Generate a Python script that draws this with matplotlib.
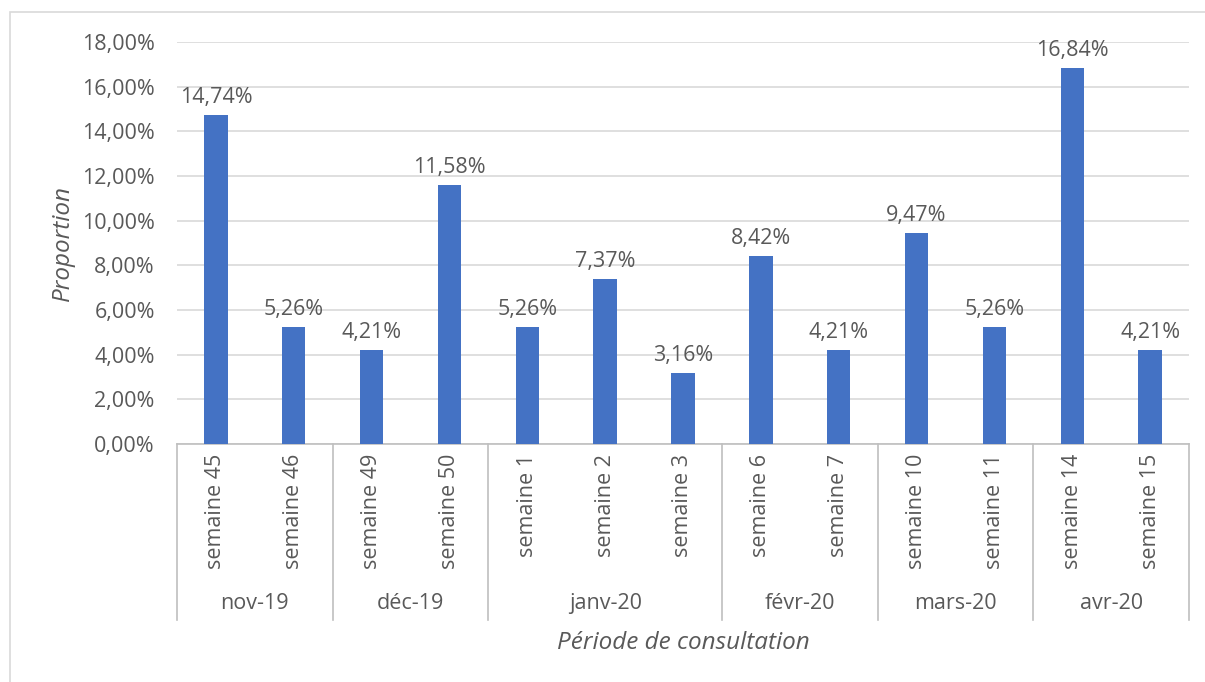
import matplotlib.pyplot as plt
from matplotlib.patches import Rectangle

# data
weeks = ["semaine 45", "semaine 46", "semaine 49", "semaine 50", "semaine 1", "semaine 2",
         "semaine 3", "semaine 6", "semaine 7", "semaine 10", "semaine 11", "semaine 14", "semaine 15"]
values = [14.74, 5.26, 4.21, 11.58, 5.26, 7.37, 3.16, 8.42, 4.21, 9.47, 5.26, 16.84, 4.21]
months = ["nov-19", "déc-19", "janv-20", "févr-20", "mars-20", "avr-20"]
month_sizes = [2, 2, 3, 2, 2, 2]

txt = "#595959"
fs = 15.5
plt.rcParams['font.family'] = ['Open Sans', 'DejaVu Sans']

fig = plt.figure(figsize=(12.05, 6.82), dpi=100)
ax = fig.add_axes([177 / 1205, 1 - 444 / 682, 1012 / 1205, 402 / 682])

x = list(range(len(weeks)))
ax.bar(x, values, width=0.3, color="#4472C4", zorder=3)
for xi, v in zip(x, values):
    ax.annotate(f"{v:.2f}%".replace(".", ","), (xi, v), xytext=(0, 5), textcoords="offset points",
                ha="center", va="bottom", fontsize=fs, color=txt)

ax.set_xlim(-0.5, len(weeks) - 0.5)
ax.set_ylim(0, 18)
yt = list(range(0, 19, 2))
ax.set_yticks(yt)
ax.set_yticklabels([f"{t:.2f}%".replace(".", ",") for t in yt], fontsize=fs, color=txt)
ax.set_xticks(x)
ax.set_xticklabels(weeks, rotation=90, fontsize=fs, color=txt, va="top")
ax.tick_params(axis="both", length=0)
ax.tick_params(axis="x", pad=7)
ax.tick_params(axis="y", pad=16)
ax.grid(axis="y", color="#D9D9D9", linewidth=1.2, zorder=0)
for s in ["top", "right", "left"]:
    ax.spines[s].set_visible(False)
ax.spines["bottom"].set_color("#BFBFBF")
ax.spines["bottom"].set_linewidth(1.2)

# month group separators and labels
trans = ax.get_xaxis_transform()
edges = [-0.5]
for n in month_sizes:
    edges.append(edges[-1] + n)
for e in edges:
    ax.plot([e, e], [0, -0.438], transform=trans, color="#BFBFBF", lw=1.2, clip_on=False)
for i, m in enumerate(months):
    ax.text((edges[i] + edges[i + 1]) / 2, -0.398, m, transform=trans, ha="center", va="center",
            fontsize=fs, color=txt)

ax.set_ylabel("Proportion", fontsize=17.5, color=txt, style="italic", labelpad=5)
fig.text((177 + 1189) / 2 / 1205, 1 - 643 / 682, "Période de consultation", ha="center", va="center",
         fontsize=17.5, color=txt, style="italic")

fig.patches.append(Rectangle((10 / 1205, -0.05), 1.2, 1 - 12 / 682 + 0.05, transform=fig.transFigure,
                             fill=False, edgecolor="#D9D9D9", lw=1.2))

fig.savefig("out.png", dpi=100)
